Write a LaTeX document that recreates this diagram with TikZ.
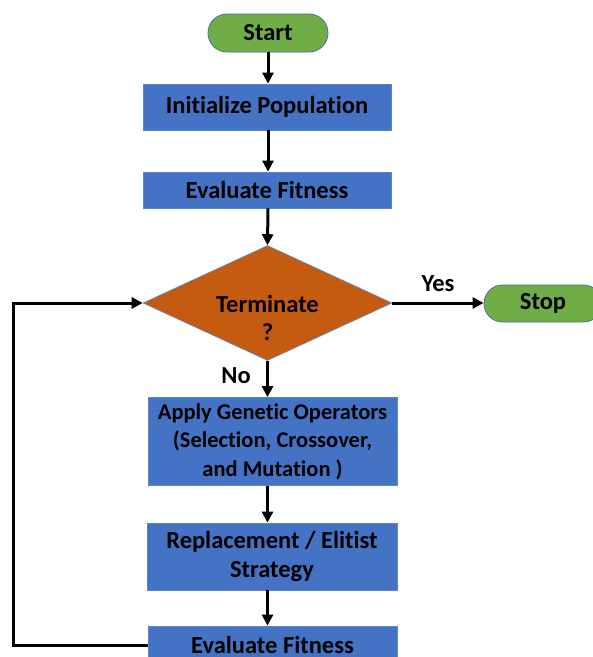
\documentclass[tikz,border=0pt]{standalone}
\usepackage{fontspec}
\setmainfont{Carlito}[Ligatures=NoCommon]
\usetikzlibrary{arrows.meta,shapes.geometric,shapes.misc}
\definecolor{boxblue}{HTML}{4472C4}
\definecolor{edgeblue}{HTML}{5B86CF}
\definecolor{termgreen}{HTML}{70AD47}
\definecolor{termedge}{HTML}{41719C}
\definecolor{decorange}{HTML}{C55A11}
\tikzset{
  txt/.style={font=\fontsize{24.5}{28.5}\selectfont\bfseries, text=black, align=center},
  smalltxt/.style={font=\fontsize{22.5}{28.5}\selectfont\bfseries},
  process/.style={txt, rectangle, fill=boxblue, draw=edgeblue, line width=0.8pt, inner sep=0pt},
  terminal/.style={txt, rounded rectangle, fill=termgreen, draw=termedge, line width=0.8pt, inner sep=0pt},
  decision/.style={diamond, fill=decorange, draw=edgeblue, line width=0.6pt, inner sep=0pt},
  flow/.style={line width=3pt, -{Triangle[length=11pt,width=11pt]}},
}
\begin{document}
\begin{tikzpicture}[x=1pt,y=-1pt]
\useasboundingbox (0,0) rectangle (593,657);
% nodes
\node[terminal, minimum width=120pt, minimum height=38pt] (start) at (268,33) {Start};
\node[process, minimum width=248pt, minimum height=46pt] (init) at (267,107) {Initialize Population};
\node[process, minimum width=248pt, minimum height=36pt] (eval1) at (267,190) {Evaluate Fitness};
\node[decision, minimum width=249pt, minimum height=115pt] (term) at (267.5,303) {};
\node[txt] (termtxt) at (267.5,318) {Terminate\\?};
\node[terminal, minimum width=118pt, minimum height=37pt] (stop) at (543,303.5) {Stop};
\node[process, smalltxt, minimum width=249pt, minimum height=88pt] (apply) at (272.5,441.5) {Apply Genetic Operators\\(Selection, Crossover,\\and Mutation )};
\node[process, minimum width=250pt, minimum height=67pt] (repl) at (272,556.5) {Replacement / Elitist\\Strategy};
\node[process, minimum width=249pt, minimum height=38pt] (eval2) at (272.5,645) {Evaluate Fitness};
% connectors
\draw[flow] (start.south) -- (init.north -| start.south);
\draw[flow] (init.south -| start.south) -- (eval1.north -| start.south);
\draw[flow] (eval1.south -| start.south) -- (term.north);
\draw[flow] (term.east) -- (term.east -| stop.west)
  node[txt, midway, above=6pt] (yes) {Yes};
\draw[flow] (term.south) -- (apply.north -| term.south)
  node[txt, pos=0.4, left=12pt] (no) {No};
\draw[flow] (apply.south -| term.south) -- (repl.north -| term.south);
\draw[flow] (repl.south -| term.south) -- (eval2.north -| term.south);
\draw[flow] (eval2.west) -- ++(-134,0) |- (term.west);
\end{tikzpicture}
\end{document}
